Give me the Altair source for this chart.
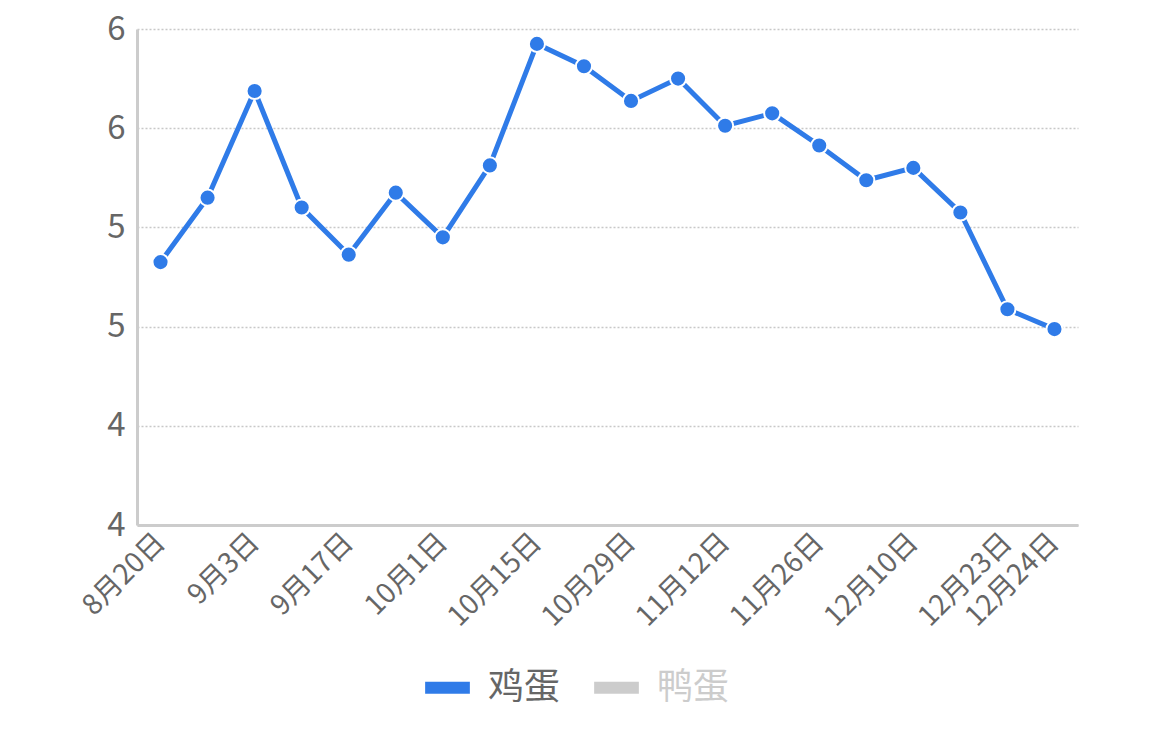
import altair as alt
import pandas as pd

dates = ["8月20日", "8月27日", "9月3日", "9月10日", "9月17日", "9月24日", "10月1日",
         "10月8日", "10月15日", "10月22日", "10月29日", "11月5日", "11月12日", "11月19日",
         "11月26日", "12月3日", "12月10日", "12月17日", "12月23日", "12月24日"]
egg = [5.06, 5.32, 5.75, 5.28, 5.09, 5.34, 5.16, 5.45, 5.94, 5.85,
       5.71, 5.80, 5.61, 5.66, 5.53, 5.39, 5.44, 5.26, 4.87, 4.79]
series_names = ["鸡蛋", "鸭蛋"]
series_colors = ["#2F7BE8", "#CCCCCC"]
shown_labels = ["8月20日", "9月3日", "9月17日", "10月1日", "10月15日", "10月29日",
                "11月12日", "11月26日", "12月10日", "12月23日", "12月24日"]
y_ticks = [4.0, 4.4, 4.8, 5.2, 5.6, 6.0]

df = pd.DataFrame({"date": dates, "price": egg, "series": ["鸡蛋"] * len(dates)})

FONT = "Noto Sans CJK SC"

x = alt.X("date:N", sort=dates, title=None,
          scale=alt.Scale(type="point", padding=0.5),
          axis=alt.Axis(values=shown_labels, labelAngle=-45, labelFontSize=28,
                        labelColor="#666666", labelFont=FONT, ticks=False,
                        labelPadding=13, domainColor="#CCCCCC", domainWidth=3,
                        grid=False, labelAlign="right", labelBaseline="middle",
                        labelOverlap=False))
y = alt.Y("price:Q", title=None,
          scale=alt.Scale(domain=[4.0, 6.0], nice=False, zero=False),
          axis=alt.Axis(values=y_ticks, format=".0f", labelFontSize=33,
                        labelColor="#666666", labelFont=FONT, ticks=False,
                        labelPadding=12, domainColor="#CCCCCC", domainWidth=3,
                        grid=True, gridColor="#C8C8C8", gridDash=[2, 2], gridWidth=1.5))

line = alt.Chart(df).mark_line(strokeWidth=5).encode(
    x=x, y=y,
    color=alt.Color("series:N",
                    scale=alt.Scale(domain=series_names, range=series_colors),
                    legend=alt.Legend(
                        title=None, orient="none", direction="horizontal",
                        legendX=282, legendY=630,
                        symbolType="stroke", symbolStrokeWidth=12, symbolSize=2000,
                        labelFontSize=36, labelFont=FONT, labelOffset=12,
                        columnPadding=9, labelLimit=200,
                        labelColor=alt.ExprRef("datum.value === '鸭蛋' ? '#CCCCCC' : '#666666'")))
)

points = alt.Chart(df).mark_point(filled=True, size=260, opacity=1,
                                   color="#2F7BE8", stroke="white",
                                   strokeWidth=2, strokeOpacity=1).encode(x=x, y=y)

chart = alt.layer(line, points).properties(
    width=941, height=496,
    padding={"left": 129, "top": 21, "right": 66, "bottom": 205},
    autosize=alt.AutoSizeParams(type="none"),
).configure(background="white").configure_view(stroke=None)

chart.save("out.html", embed_options={"renderer": "svg", "actions": False})
